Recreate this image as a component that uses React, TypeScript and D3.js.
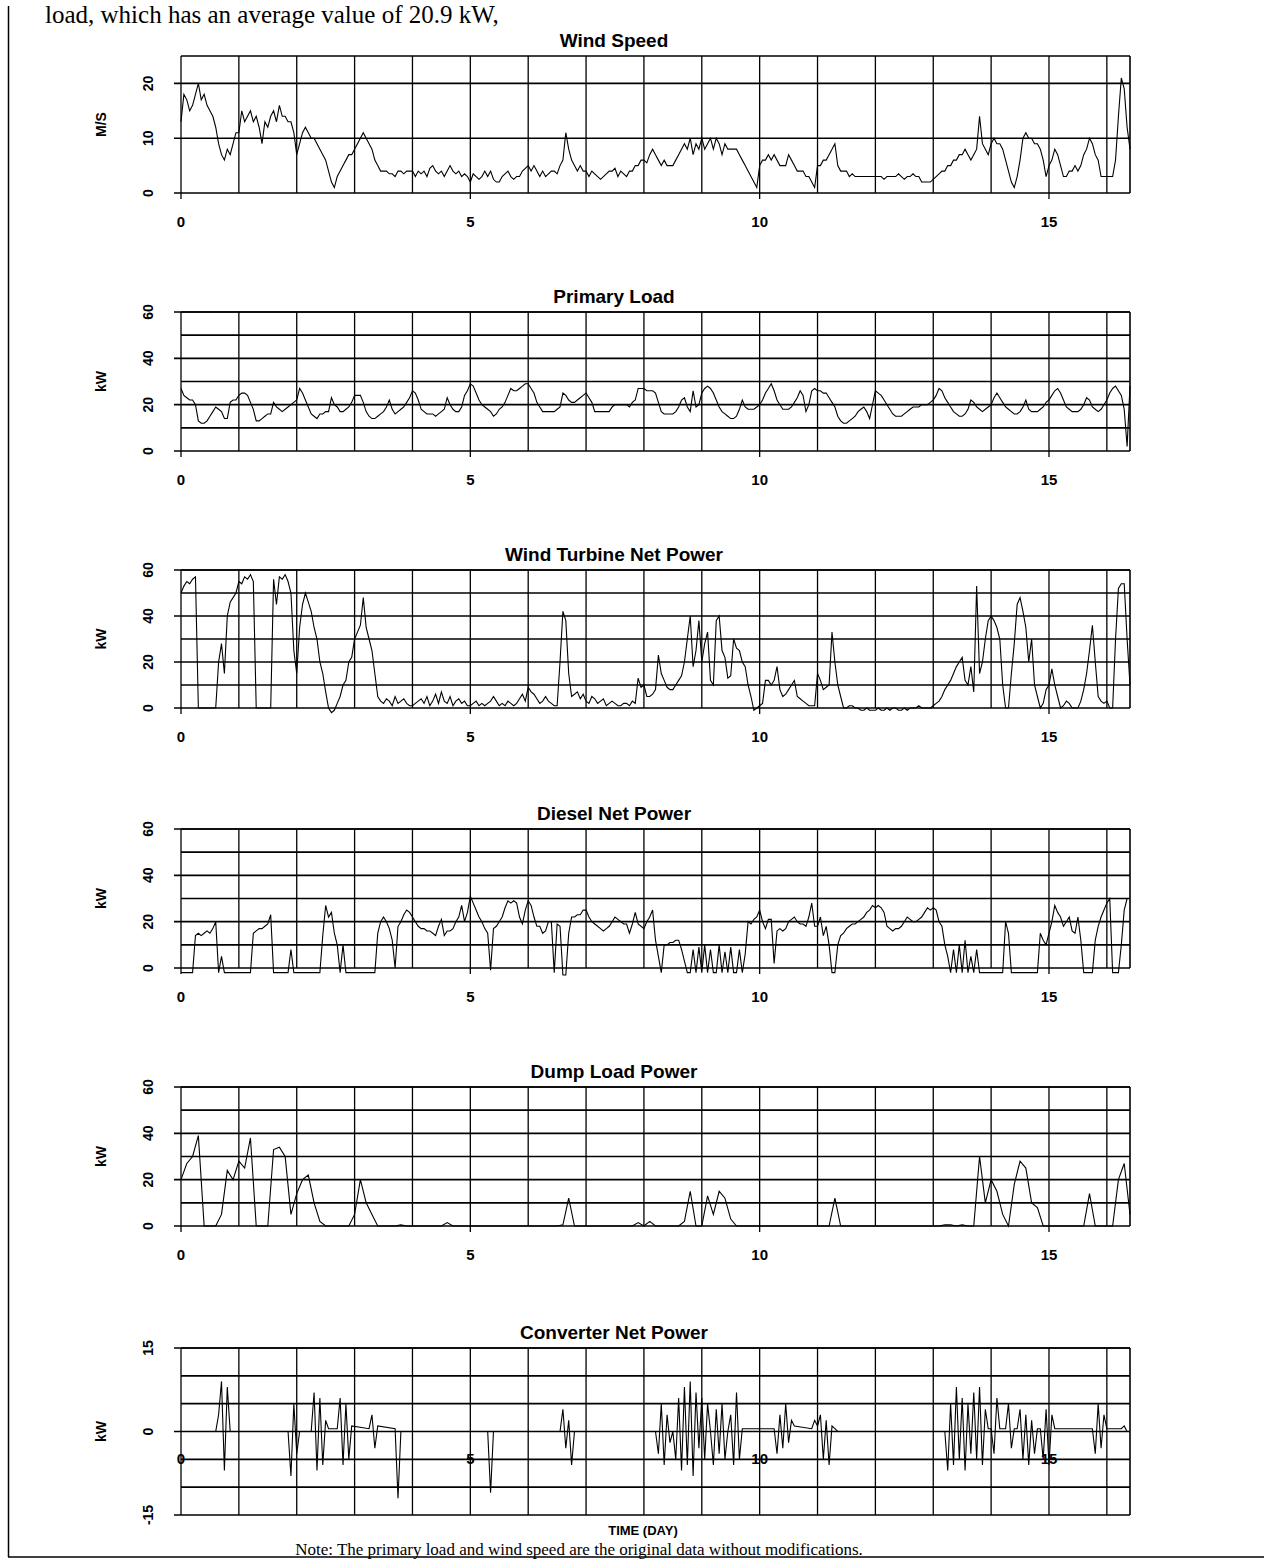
import React from 'react';
import * as d3 from 'd3';

const FINE_STEP = 0.05; // days between samples of the detailed series
const DUMP_STEP = 0.1;
const X_MAX = 16.4;
const xTickValues = [0, 5, 10, 15];

// Wind speed (m/s), one value per 0.05 day
const windSpeed = [
  13, 18, 17, 15, 16, 18, 20, 17, 18, 16, 15, 14, 12, 9, 7, 6, 8, 7, 9, 11,
  11, 15, 13, 14, 15, 13, 14, 12, 9, 13, 12, 14, 15, 13, 16, 14, 14, 13, 13, 11,
  7, 9, 11, 12, 11, 10, 10, 9, 8, 7, 6, 4, 2, 1, 3, 4, 5, 6, 7, 7,
  8, 9, 10, 11, 10, 9, 8, 6, 5, 4, 4, 4, 3.5, 3.5, 3, 4, 4, 3.5, 4, 4,
  4, 3, 4, 3.5, 4, 3, 4.5, 5, 4, 3.5, 4, 3, 4, 5, 4, 3.5, 4, 3, 3.5, 3,
  2, 3.5, 3, 2.5, 3, 4, 3, 4, 2.5, 2, 2, 3, 3.5, 4, 3, 2.5, 3, 3, 4, 4.5,
  5, 4, 5, 4, 3, 4, 3, 3.5, 4, 4, 3.5, 5, 6, 11, 8, 6, 5, 4, 5, 4,
  4, 3, 4, 3.5, 3, 2.5, 3, 3.5, 4, 4, 4.5, 3, 4, 3.5, 3, 4, 4, 5, 5, 6,
  6, 5.5, 7, 8, 7, 6, 5, 6, 5, 5, 5, 6, 7, 8, 9, 8, 10, 7, 9, 8,
  10, 8, 9, 10, 8, 10, 9, 7, 9, 8, 8, 8, 8, 7, 6, 5, 4, 3, 2, 1,
  5, 6, 6, 7, 6, 7, 6, 5, 5, 5, 7, 6, 5, 4, 4, 4, 3, 3, 2, 1,
  5, 5, 6, 6, 7, 8, 9, 5, 4, 4, 4, 3, 3.5, 3, 3, 3, 3, 3, 3, 3,
  3, 3, 3, 2.5, 3, 3, 3, 3, 3.5, 3, 2.5, 3, 3, 3.5, 3, 3, 2, 2, 2, 2,
  2.5, 3, 3.5, 4, 4, 5, 5, 6, 6, 7, 7, 8, 7, 6, 7, 8, 14, 9, 8, 7,
  9, 10, 9, 9, 8, 6, 4, 2, 1, 3, 6, 10, 11, 10, 10, 9, 9, 8, 6, 3,
  5, 6, 8, 7, 5, 3, 3, 4, 4, 5, 4, 5, 7, 8, 10, 9, 7, 6, 3, 3,
  3, 3, 3, 6, 14, 21, 19, 12, 8,
];

// Primary load (kW), one value per 0.05 day
const primaryLoad = [
  27, 24, 23, 22, 22, 20, 13, 12, 12, 13, 15, 17, 19, 18, 17, 14, 14, 21, 22, 22,
  24, 25, 25, 24, 21, 18, 13, 13, 14, 15, 16, 16, 21, 19, 18, 17, 18, 19, 20, 21,
  22, 27, 25, 22, 19, 16, 15, 14, 16, 16, 17, 17, 23, 20, 19, 17, 17, 18, 19, 21,
  24, 24, 24, 21, 17, 15, 14, 14, 15, 16, 17, 19, 22, 18, 16, 17, 18, 19, 21, 23,
  26, 25, 22, 18, 17, 16, 16, 16, 15, 16, 17, 18, 23, 20, 18, 17, 17, 19, 24, 26,
  29, 28, 25, 22, 20, 19, 18, 17, 15, 16, 18, 19, 21, 24, 27, 26, 26, 27, 28, 29,
  29, 27, 25, 21, 19, 17, 17, 17, 17, 17, 18, 19, 25, 24, 22, 21, 21, 22, 23, 24,
  25, 23, 21, 17, 17, 17, 17, 17, 17, 19, 20, 20, 20, 20, 20, 19, 21, 22, 27, 27,
  27, 26, 26, 26, 25, 21, 17, 16, 16, 16, 16, 17, 19, 22, 23, 19, 17, 26, 19, 20,
  25, 27, 28, 27, 25, 22, 19, 17, 16, 15, 14, 14, 15, 18, 22, 19, 18, 18, 18, 19,
  20, 22, 25, 27, 29, 26, 22, 20, 18, 18, 18, 19, 21, 23, 26, 24, 17, 20, 26, 27,
  26, 26, 25, 25, 23, 21, 19, 15, 13, 12, 12, 13, 14, 15, 17, 18, 19, 17, 14, 20,
  26, 25, 24, 22, 20, 18, 16, 15, 15, 15, 16, 17, 18, 19, 19, 19, 20, 20, 20, 21,
  22, 24, 27, 26, 23, 21, 19, 17, 16, 15, 15, 16, 18, 22, 21, 19, 18, 17, 18, 19,
  20, 23, 25, 23, 21, 19, 18, 17, 16, 16, 17, 19, 22, 18, 17, 17, 17, 18, 19, 21,
  22, 24, 26, 27, 25, 22, 19, 18, 17, 17, 17, 18, 20, 23, 22, 19, 18, 17, 18, 20,
  22, 25, 27, 28, 26, 24, 18, 2, 28,
];

// Wind turbine net power (kW), one value per 0.05 day
const turbinePower = [
  50, 53, 55, 54, 56, 57, 0, 0, 0, 0, 0, 0, 0, 20, 28, 15, 40, 46, 48, 50,
  55, 54, 57, 56, 58, 55, 0, 0, 0, 0, 0, 0, 56, 45, 57, 56, 58, 55, 50, 25,
  15, 35, 45, 50, 46, 42, 35, 30, 20, 15, 7, 0, -2, -1, 2, 5, 10, 12, 20, 22,
  30, 33, 36, 48, 35, 30, 25, 15, 5, 3, 2, 4, 3, 1, 5, 2, 3, 4, 2, 1,
  1, 2, 3, 4, 2, 5, 1, 3, 6, 2, 7, 3, 2, 5, 1, 3, 4, 2, 3, 1,
  1, 2, 3, 1, 2, 1, 2, 3, 5, 3, 1, 2, 1, 3, 2, 1, 2, 4, 6, 3,
  9, 7, 6, 4, 2, 3, 5, 3, 2, 1, 1, 20, 42, 38, 15, 5, 6, 7, 4, 6,
  3, 2, 5, 4, 2, 3, 4, 1, 2, 3, 2, 1, 1, 2, 2, 1, 3, 2, 13, 9,
  10, 5, 5, 6, 8, 23, 15, 12, 9, 8, 8, 10, 12, 14, 20, 30, 40, 18, 25, 38,
  20, 28, 33, 12, 10, 38, 40, 25, 22, 13, 14, 30, 26, 25, 20, 18, 10, 5, -1, 0,
  1, 2, 12, 12, 10, 12, 18, 8, 5, 6, 8, 10, 12, 5, 4, 3, 2, 1, 1, 1,
  15, 12, 8, 9, 10, 33, 20, 10, 5, 0, 0, 1, 1, 0, 0, -1, -1, 0, -1, -1,
  -1, 0, -1, -1, 0, -1, 0, 0, -1, -1, 0, -1, 0, 0, 0, 1, 0, 0, 0, 0,
  1, 2, 3, 5, 8, 10, 12, 15, 18, 20, 22, 12, 10, 18, 7, 53, 15, 20, 30, 38,
  40, 38, 35, 30, 10, 0, 0, 15, 28, 45, 48, 42, 35, 20, 30, 10, 5, 0, 2, 8,
  10, 17, 10, 5, 0, 1, 3, 2, 0, 0, 0, 3, 8, 15, 25, 36, 20, 5, 3, 2,
  3, 0, 0, 30, 52, 54, 54, 30, 10,
];

// Diesel net power (kW), one value per 0.05 day
const dieselPower = [
  -2, -2, -2, -2, -2, 14, 15, 14, 15, 16, 15, 17, 20, -2, 5, -2, -2, -2, -2, -2,
  -2, -2, -2, -2, -2, 15, 16, 17, 17, 18, 19, 23, -2, -2, -2, -2, -2, -2, 8, -2,
  -2, -2, -2, -2, -2, -2, -2, -2, -2, 14, 27, 22, 24, 15, 10, -2, 10, -2, -2, -2,
  -2, -2, -2, -2, -2, -2, -2, -2, 15, 20, 22, 20, 17, 12, 0, 18, 20, 23, 25, 24,
  22, 20, 18, 17, 17, 16, 16, 15, 14, 18, 21, 14, 16, 16, 17, 20, 22, 27, 20, 24,
  31, 28, 25, 22, 20, 17, 15, -1, 17, 18, 20, 22, 26, 29, 28, 29, 28, 22, 19, 25,
  29, 27, 22, 18, 18, 15, 16, 20, 20, -2, 19, 18, -3, -3, 15, 22, 22, 23, 23, 25,
  25, 22, 20, 19, 18, 17, 16, 17, 18, 20, 22, 21, 20, 19, 19, 15, 19, 24, 19, 18,
  17, 20, 22, 25, 12, 5, -2, 10, 10, 11, 11, 12, 12, 8, 3, -2, -2, 8, -2, 9,
  -2, 10, -2, 8, -2, -2, 10, -2, 7, -2, 9, -2, -2, 8, -2, 6, 20, 19, 21, 22,
  25, 20, 17, 21, 21, 2, 16, 17, 16, 17, 20, 21, 22, 20, 19, 19, 18, 22, 28, 18,
  18, 22, 14, 18, 10, -2, -2, 10, 14, 15, 17, 18, 19, 19, 20, 21, 22, 24, 25, 27,
  26, 27, 26, 24, 18, 17, 16, 17, 17, 18, 20, 22, 21, 20, 20, 21, 22, 24, 26, 25,
  26, 25, 20, 18, 10, 5, -2, 8, -2, 10, -2, 12, -2, 5, -2, 8, -2, -2, -2, -2,
  -2, -2, -2, -2, -2, 20, 15, -2, -2, -2, -2, -2, -2, -2, -2, -2, -2, 15, 12, 10,
  15, 20, 27, 24, 22, 18, 20, 22, 16, 15, 22, 12, -2, -2, -2, -2, 12, 18, 22, 25,
  28, 30, -2, -2, -2, 10, 25, 30, 30,
];

// Dump load power (kW), one value per 0.1 day
const dumpPower = [
  20, 27, 30, 39, 0, 0, 0, 5, 24, 20,
  28, 25, 38, 0, 0, 0, 33, 34, 30, 5,
  14, 20, 22, 10, 2, 0, 0, 0, 0, 0,
  5, 20, 10, 5, 0, 0, 0, 0, 0.5, 0,
  0, 0, 0, 0, 0, 0, 1.5, 0, 0, 0,
  0, 0, 0, 0, 0, 0, 0, 0, 0, 0,
  0, 0, 0, 0, 0, 0, 0.5, 12, 0, 0,
  0, 0, 0, 0, 0, 0, 0, 0, 0, 1.5,
  0, 2, 0, 0, 0, 0, 0, 2, 15, 0,
  0, 13, 5, 15, 12, 3, 0, 0, 0, 0,
  0, 0, 0, 0, 0, 0, 0, 0, 0, 0,
  0, 0, 0, 12, 0, 0, 0, 0, 0, 0,
  0, 0, 0, 0, 0, 0, 0, 0, 0, 0,
  0, 0, 0.5, 0.5, 0, 0.5, 0, 0, 30, 10,
  20, 15, 5, 0, 18, 28, 25, 10, 8, 0,
  0, 0, 0, 0, 0, 0, 0, 14, 0, 0,
  0, 0, 20, 27, 5,
];

// Converter net power (kW): [day, kW]
const converterPoints: [number, number][] = [
  [0, 0], [0.6, 0], [0.65, 3], [0.7, 9], [0.75, -7], [0.8, 8], [0.85, 0],
  [1.85, 0], [1.9, -8], [1.95, 5], [2.0, -4], [2.05, 0], [2.25, 0],
  [2.3, 7], [2.35, -7], [2.4, 6], [2.45, -6], [2.5, 2], [2.55, 0.5], [2.7, 0.5],
  [2.75, 6], [2.8, -6], [2.85, 5], [2.9, -5], [2.95, 1], [3.25, 0.5],
  [3.3, 3], [3.35, -3], [3.4, 1], [3.7, 0.5], [3.75, -12], [3.8, 0],
  [5.3, 0], [5.35, -11], [5.4, 0], [6.55, 0],
  [6.6, 4], [6.65, -3], [6.7, 2], [6.75, -6], [6.8, 0], [8.2, 0],
  [8.25, -4], [8.3, 5], [8.35, -6], [8.4, 3], [8.45, -2], [8.5, 0], [8.55, -5],
  [8.6, 6], [8.65, -7], [8.7, 8], [8.75, -6], [8.8, 9], [8.85, -8], [8.9, 7],
  [8.95, -3], [9.0, 6], [9.05, -5], [9.1, 5], [9.15, 0], [9.2, -6], [9.25, 4],
  [9.3, -4], [9.35, 5], [9.4, -5], [9.45, 0], [9.5, 3], [9.55, -6], [9.6, 7],
  [9.65, -5], [9.7, 0.5], [10.25, 0.5], [10.3, -4], [10.35, 3], [10.4, -3],
  [10.45, 5], [10.5, -2], [10.55, 2], [10.6, 1], [10.9, 0.5], [10.95, 2],
  [11.0, 1], [11.05, 3], [11.1, -5], [11.15, 2], [11.2, -6], [11.25, 1],
  [11.3, 0.5], [11.35, 0], [13.2, 0],
  [13.25, -7], [13.3, 5], [13.35, -6], [13.4, 8], [13.45, -5], [13.5, 6],
  [13.55, -7], [13.6, 5], [13.65, -4], [13.7, 7], [13.75, -5], [13.8, 8],
  [13.85, -6], [13.9, 4], [13.95, 0.5], [14.0, 0.5], [14.05, -4], [14.1, 6],
  [14.15, 0.5], [14.25, 0.5], [14.3, 5], [14.35, -3], [14.4, 0.5], [14.45, 0.5],
  [14.5, 4], [14.55, -5], [14.6, 3], [14.65, -6], [14.7, 2], [14.75, -4],
  [14.8, 0.5], [14.85, 0.5], [14.9, -5], [14.95, 4], [15.0, -6], [15.05, 3],
  [15.1, 0.5], [15.75, 0.5], [15.8, -4], [15.85, 5], [15.9, -3], [15.95, 3],
  [16.0, 0.5], [16.25, 0.5], [16.3, 1], [16.35, 0],
];

const kwTicks = [0, 20, 40, 60];
const windTicks = [0, 10, 20];
const converterTicks = [-15, 0, 15];

const toPoints = (vals: number[], step: number): [number, number][] =>
  vals.map((v, i) => [Math.min(i * step, X_MAX), v]);

type PanelDef = {
  title: string;
  yLabel: string;
  data: [number, number][];
  domain: [number, number];
  bottom: number;
  top: number;
  gridStep: number;
  ticks: number[];
  labelsInside?: boolean;
};

const PLOT_LEFT = 181;
const PLOT_RIGHT = 1130;
const SANS = "'Liberation Sans', Arial, sans-serif";
const SERIF = "'Liberation Serif', 'Times New Roman', serif";

export default function App() {
  const x = d3.scaleLinear().domain([0, X_MAX]).range([PLOT_LEFT, PLOT_RIGHT]);

  const panels: PanelDef[] = [
    { title: 'Wind Speed', yLabel: 'M/S', data: toPoints(windSpeed, FINE_STEP), domain: [0, 25], bottom: 193, top: 56, gridStep: 10, ticks: windTicks },
    { title: 'Primary Load', yLabel: 'kW', data: toPoints(primaryLoad, FINE_STEP), domain: [0, 60], bottom: 451, top: 312, gridStep: 10, ticks: kwTicks },
    { title: 'Wind Turbine Net Power', yLabel: 'kW', data: toPoints(turbinePower, FINE_STEP), domain: [0, 60], bottom: 708, top: 570, gridStep: 10, ticks: kwTicks },
    { title: 'Diesel Net Power', yLabel: 'kW', data: toPoints(dieselPower, FINE_STEP), domain: [0, 60], bottom: 968, top: 829, gridStep: 10, ticks: kwTicks },
    { title: 'Dump Load Power', yLabel: 'kW', data: toPoints(dumpPower, DUMP_STEP), domain: [0, 60], bottom: 1226, top: 1087, gridStep: 10, ticks: kwTicks },
    { title: 'Converter Net Power', yLabel: 'kW', data: converterPoints, domain: [-15, 15], bottom: 1515, top: 1348, gridStep: 5, ticks: converterTicks, labelsInside: true },
  ];

  const dayLines = d3.range(0, 17);

  return (
    <svg width={1264} height={1564} style={{ position: 'absolute', left: 0, top: 0, background: '#fff' }}>
      <rect x={0} y={0} width={1264} height={1564} fill="#fff" />
      <line x1={8.5} y1={6} x2={8.5} y2={1557} stroke="#000" strokeWidth={1.5} />
      <line x1={8} y1={1557} x2={1264} y2={1557} stroke="#000" strokeWidth={1.5} />
      <text x={45} y={23} fontFamily={SERIF} fontSize={25}>
        load, which has an average value of 20.9 kW,
      </text>

      {panels.map((p, pi) => {
        const y = d3.scaleLinear().domain(p.domain).range([p.bottom, p.top]);
        const gridVals = d3.range(p.domain[0], p.domain[1] + 0.001, p.gridStep);
        const line = d3.line<[number, number]>().x(d => x(d[0])).y(d => y(d[1]));
        const xLabelY = p.labelsInside ? y(-5) + 5 : p.bottom + 34;
        const midY = (p.top + p.bottom) / 2;
        return (
          <g key={pi}>
            <text x={614} y={p.top - 9} textAnchor="middle" fontFamily={SANS} fontWeight="bold" fontSize={19}>
              {p.title}
            </text>
            {gridVals.map(v => (
              <line key={'h' + v} x1={p.ticks.includes(v) ? PLOT_LEFT - 7 : PLOT_LEFT} x2={PLOT_RIGHT} y1={y(v)} y2={y(v)} stroke="#000" strokeWidth={1.6} />
            ))}
            <line x1={PLOT_LEFT} x2={PLOT_RIGHT} y1={p.top} y2={p.top} stroke="#000" strokeWidth={1.6} />
            {dayLines.map(d => (
              <line key={'v' + d} x1={x(d)} x2={x(d)} y1={p.top} y2={xTickValues.includes(d) && !p.labelsInside ? p.bottom + 6 : p.bottom} stroke="#000" strokeWidth={1.3} />
            ))}
            <line x1={PLOT_RIGHT} x2={PLOT_RIGHT} y1={p.top} y2={p.bottom} stroke="#000" strokeWidth={1.6} />
            <path d={line(p.data) || ''} fill="none" stroke="#000" strokeWidth={1.1} />
            {xTickValues.map(t => (
              <text key={'xt' + t} x={x(t)} y={xLabelY} textAnchor="middle" fontFamily={SANS} fontWeight="bold" fontSize={15}>
                {t}
              </text>
            ))}
            {p.ticks.map(t => (
              <text key={'yt' + t} transform={`translate(${153},${y(t)}) rotate(-90)`} textAnchor="middle" fontFamily={SANS} fontWeight="bold" fontSize={14}>
                {t}
              </text>
            ))}
            <text transform={`translate(${106},${midY}) rotate(-90)`} textAnchor="middle" fontFamily={SANS} fontWeight="bold" fontSize={14}>
              {p.yLabel}
            </text>
          </g>
        );
      })}

      <text x={643} y={1535} textAnchor="middle" fontFamily={SANS} fontWeight="bold" fontSize={13}>
        TIME (DAY)
      </text>
      <text x={579} y={1555} textAnchor="middle" fontFamily={SERIF} fontSize={17}>
        Note: The primary load and wind speed are the original data without modifications.
      </text>
    </svg>
  );
}
